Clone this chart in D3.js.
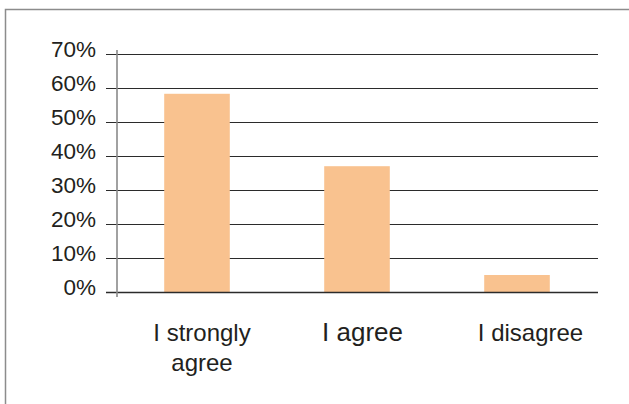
<!DOCTYPE html>
<html>
<head>
<meta charset="utf-8">
<script src="https://d3js.org/d3.v7.min.js"></script>
<style>
  body { margin: 0; background: #fff; }
  svg { display: block; font-family: "Liberation Sans", Arial, sans-serif; }
</style>
</head>
<body>
<svg width="629" height="404" class="bar-chart"></svg>
<script>
  // data
  const categories = ["I strongly agree", "I agree", "I disagree"];
  const values = [58.3, 37, 5];
  const yTicks = [0, 10, 20, 30, 40, 50, 60, 70];

  const svg = d3.select(".bar-chart");
  const textColor = "#231f20";
  const barColor = "#f9c28f";

  // frame (open on right and bottom)
  svg.append("path")
    .attr("d", "M5.5,404 L5.5,9.5 L629,9.5")
    .attr("fill", "none")
    .attr("stroke", "#8c8c8c")
    .attr("stroke-width", 1.5);

  const x = d3.scaleBand()
    .domain(categories)
    .range([117, 597])
    .paddingInner(0.59)
    .paddingOuter(0.295);

  const y = d3.scaleLinear().domain([0, 70]).range([292, 54]);

  // gridlines with left tick stubs
  svg.append("g")
    .selectAll("line")
    .data(yTicks)
    .enter().append("line")
    .attr("x1", 106)
    .attr("x2", 598)
    .attr("y1", d => Math.round(y(d)) + 0.5)
    .attr("y2", d => Math.round(y(d)) + 0.5)
    .attr("stroke", "#2b2b2b")
    .attr("stroke-width", 1.2);

  // bars
  svg.append("g")
    .selectAll("rect")
    .data(values)
    .enter().append("rect")
    .attr("x", (d, i) => x(categories[i]))
    .attr("y", d => y(d))
    .attr("width", x.bandwidth())
    .attr("height", d => y(0) - y(d))
    .attr("fill", barColor);

  // redraw baseline over the bars
  svg.append("line")
    .attr("x1", 106).attr("x2", 598)
    .attr("y1", Math.round(y(0)) + 0.5).attr("y2", Math.round(y(0)) + 0.5)
    .attr("stroke", "#2b2b2b")
    .attr("stroke-width", 1.5);

  // vertical axis line
  svg.append("line")
    .attr("x1", 117).attr("x2", 117)
    .attr("y1", 50).attr("y2", 297)
    .attr("stroke", "#8a8a8a")
    .attr("stroke-width", 1.6);

  // y tick labels
  svg.append("g")
    .selectAll("text")
    .data(yTicks)
    .enter().append("text")
    .attr("x", 96)
    .attr("y", d => y(d) + 2.5)
    .attr("text-anchor", "end")
    .attr("font-size", "22.5px")
    .attr("fill", textColor)
    .text(d => d + "%");

  // x category labels
  const xLabels = [
    {lines: ["I strongly", "agree"], size: 24, shift: 5},
    {lines: ["I agree"], size: 26, shift: 5.5},
    {lines: ["I disagree"], size: 24, shift: 13.5}
  ];
  const lab = svg.append("g")
    .selectAll("text")
    .data(xLabels)
    .enter().append("text")
    .attr("x", (d, i) => x(categories[i]) + x.bandwidth() / 2 + d.shift)
    .attr("y", 341)
    .attr("text-anchor", "middle")
    .attr("font-size", d => d.size + "px")
    .attr("fill", textColor);
  lab.selectAll("tspan")
    .data(d => d.lines)
    .enter().append("tspan")
    .attr("x", function() { return d3.select(this.parentNode).attr("x"); })
    .attr("dy", (d, i) => i === 0 ? 0 : 30)
    .text(d => d);
</script>
</body>
</html>
